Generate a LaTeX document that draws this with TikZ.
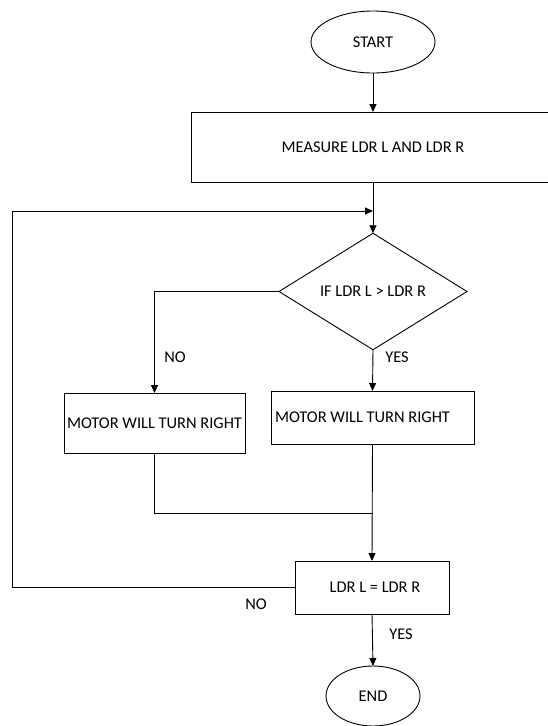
\documentclass[tikz,border=0pt]{standalone}
\usepackage{fontspec}
\setmainfont{Carlito}
\usetikzlibrary{shapes.geometric,arrows.meta}
\begin{document}
\begin{tikzpicture}[x=1pt,y=-1pt,
  font=\fontsize{16.4}{19}\selectfont,
  line width=0.9pt,
  every node/.style={inner sep=0pt,outer sep=0pt},
  boxst/.style={draw,rectangle,line width=0.9pt},
  ovalst/.style={draw,ellipse,line width=0.9pt},
  decst/.style={draw,diamond,line width=0.9pt},
  arr/.style={-{Triangle[length=8pt,width=7pt]}},
  lbl/.style={anchor=center}]
\useasboundingbox (0,0) rectangle (547,726);
\node[ovalst,minimum width=124pt,minimum height=62pt] (start) at (373,42) {START};
\node[boxst,minimum width=364pt,minimum height=70pt] (measure) at (373,147) {MEASURE LDR L AND LDR R};
\node[decst,minimum width=188pt,minimum height=97pt] (dec) at (373,291.5) {IF LDR L > LDR R};
\node[boxst,minimum width=181pt,minimum height=60pt] (lbox) at (154.5,423) {MOTOR WILL TURN RIGHT};
\node[boxst,minimum width=203pt,minimum height=53pt] (rbox) at (372.5,417.5) {\makebox[203pt][l]{\hspace{4pt}\raisebox{1pt}{MOTOR WILL TURN RIGHT}}};
\node[boxst,minimum width=154pt,minimum height=53pt] (chk) at (372,587.5) {\hspace{6pt}LDR L = LDR R};
\node[ovalst,minimum width=94pt,minimum height=60pt] (fin) at (373,696) {END};
\coordinate (join) at (373,211);
\coordinate (loopc) at (12,211);
\coordinate (merge) at (373,513);
\draw[arr] (start) -- (measure);
\draw[arr] (measure) -- (dec);
\draw[arr] (chk.west) -| (loopc) -- (join);
\draw[arr] (dec.west) -| (lbox.north);
\draw[arr] (dec.south) -- (rbox.north);
\draw (lbox.south) |- (merge);
\draw[arr] (rbox.south) -- (chk.north);
\draw[arr] (chk.south) -- (fin.north);
\node[lbl] (no1) at (175,357) {NO};
\node[lbl] (yes1) at (397,357) {YES};
\node[lbl] (no2) at (256,604) {NO};
\node[lbl] (yes2) at (401,634) {YES};
\end{tikzpicture}
\end{document}
